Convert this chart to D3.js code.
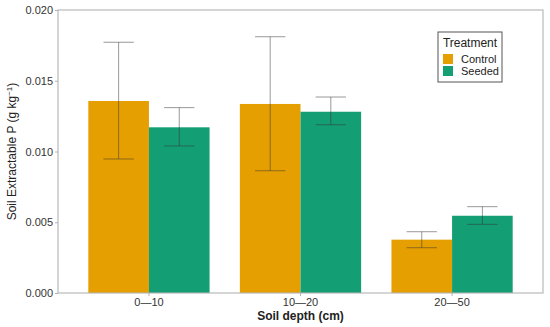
<!DOCTYPE html>
<html lang="en">
<head>
  <meta charset="UTF-8" />
  <title>Soil Extractable P by Depth</title>
  <script src="https://d3js.org/d3.v7.min.js"></script>
  <style>
    body { margin: 0; background: #fff; }
    svg { font-family: "Liberation Sans", Arial, sans-serif; display: block; }
  </style>
</head>
<body>
  <svg id="chart" width="550" height="327"></svg>
  <script>
    // data
    const depths = ["0\u201410", "10\u201420", "20\u201450"];
    const treatments = ["Control", "Seeded"];
    const controlMean = [0.01357, 0.01336, 0.00377];
    const controlLow  = [0.00947, 0.00864, 0.00320];
    const controlHigh = [0.01772, 0.01811, 0.00433];
    const seededMean  = [0.01171, 0.01281, 0.00546];
    const seededLow   = [0.01039, 0.01189, 0.00485];
    const seededHigh  = [0.01310, 0.01385, 0.00610];
    const yTicks = [0, 0.005, 0.010, 0.015, 0.020];

    const colors = { Control: "#E69F00", Seeded: "#149E74" };

    const rows = [];
    depths.forEach((d, i) => {
      rows.push({ depth: d, trt: "Control", mean: controlMean[i], lo: controlLow[i], hi: controlHigh[i] });
      rows.push({ depth: d, trt: "Seeded", mean: seededMean[i], lo: seededLow[i], hi: seededHigh[i] });
    });

    const svg = d3.select("#chart"),
          margin = {top: 10, right: 7, bottom: 34, left: 58},
          width = 550 - margin.left - margin.right,
          height = 327 - margin.top - margin.bottom;

    const chart = svg.append("g")
        .attr("transform", `translate(${margin.left},${margin.top})`);

    // ggplot style: 0.6 units expansion each side, bars 0.8 wide
    const x = d3.scaleBand()
        .domain(depths)
        .range([0, width])
        .paddingInner(0.2)
        .paddingOuter(0.2);

    const xSub = d3.scaleBand()
        .domain(treatments)
        .range([0, x.bandwidth()]);

    const y = d3.scaleLinear()
        .domain([0, 0.02])
        .range([height, 0]);

    // bars
    chart.selectAll(".bar")
        .data(rows)
        .enter().append("rect")
          .attr("class", "bar")
          .attr("x", d => x(d.depth) + xSub(d.trt))
          .attr("y", d => y(d.mean))
          .attr("width", xSub.bandwidth())
          .attr("height", d => height - y(d.mean))
          .attr("fill", d => colors[d.trt]);

    // error bars
    const capW = xSub.bandwidth() / 2;
    const eb = chart.selectAll(".err")
        .data(rows)
        .enter().append("g")
          .attr("class", "err")
          .attr("transform", d => `translate(${x(d.depth) + xSub(d.trt) + xSub.bandwidth() / 2},0)`)
          .attr("stroke", "#333")
          .attr("stroke-opacity", 0.5)
          .attr("stroke-width", 1);
    eb.append("line")
        .attr("y1", d => y(d.lo)).attr("y2", d => y(d.hi));
    eb.append("line")
        .attr("x1", -capW / 2).attr("x2", capW / 2)
        .attr("y1", d => y(d.hi)).attr("y2", d => y(d.hi));
    eb.append("line")
        .attr("x1", -capW / 2).attr("x2", capW / 2)
        .attr("y1", d => y(d.lo)).attr("y2", d => y(d.lo));

    // panel border
    chart.append("rect")
        .attr("x", 0).attr("y", 0)
        .attr("width", width).attr("height", height)
        .attr("fill", "none")
        .attr("stroke", "#b3b3b3")
        .attr("stroke-width", 1.1);

    // axes
    const xAxis = chart.append("g")
        .attr("transform", `translate(0,${height})`)
        .call(d3.axisBottom(x).tickSize(3).tickPadding(2));
    const yAxis = chart.append("g")
        .call(d3.axisLeft(y).tickValues(yTicks).tickFormat(d3.format(".3f")).tickSize(3).tickPadding(2));

    [xAxis, yAxis].forEach(a => {
      a.select(".domain").remove();
      a.selectAll(".tick line").attr("stroke", "#b3b3b3");
      a.selectAll(".tick text")
        .attr("fill", "#333")
        .attr("font-size", "11px")
        .attr("font-family", "Liberation Sans, Arial, sans-serif");
    });

    // axis titles
    svg.append("text")
      .attr("x", margin.left + width / 2)
      .attr("y", 320)
      .attr("text-anchor", "middle")
      .attr("font-size", "12px")
      .attr("font-weight", "bold")
      .attr("fill", "#222")
      .text("Soil depth (cm)");

    const yt = svg.append("text")
      .attr("transform", `translate(16,${margin.top + height / 2}) rotate(-90)`)
      .attr("text-anchor", "middle")
      .attr("font-size", "12px")
      .attr("fill", "#222");
    yt.append("tspan").text("Soil Extractable P (g kg");
    yt.append("tspan").attr("dy", -4).attr("font-size", "8px").text("\u22121");
    yt.append("tspan").attr("dy", 4).text(")");

    // legend
    const lg = svg.append("g").attr("transform", "translate(438,32)");
    lg.append("rect")
      .attr("width", 64).attr("height", 50)
      .attr("fill", "#fff")
      .attr("stroke", "#555")
      .attr("stroke-width", 1);
    lg.append("text")
      .attr("x", 32).attr("y", 15)
      .attr("text-anchor", "middle")
      .attr("font-size", "12px")
      .attr("fill", "#222")
      .text("Treatment");
    treatments.forEach((t, i) => {
      lg.append("rect")
        .attr("x", 5).attr("y", 22 + i * 12)
        .attr("width", 10).attr("height", 10)
        .attr("fill", colors[t]);
      lg.append("text")
        .attr("x", 23).attr("y", 31 + i * 12)
        .attr("font-size", "11px")
        .attr("fill", "#222")
        .text(t);
    });
  </script>
</body>
</html>
